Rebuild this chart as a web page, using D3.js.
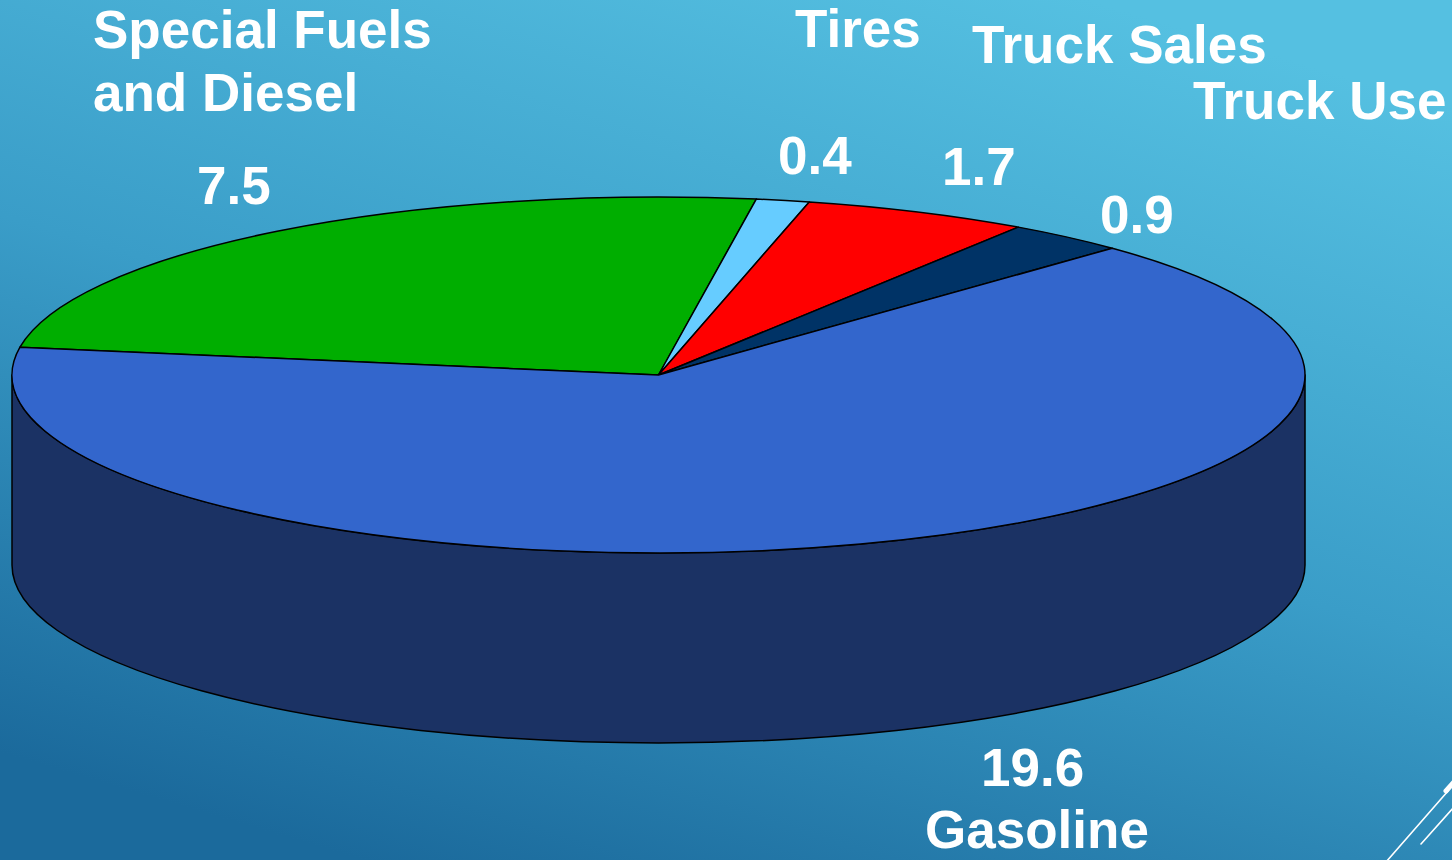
<!DOCTYPE html>
<html>
<head>
<meta charset="utf-8">
<script src="https://cdn.jsdelivr.net/npm/d3@7"></script>
<style>
  html, body { margin: 0; padding: 0; overflow: hidden; }
  svg { display: block; }
</style>
</head>
<body>
<svg id="chart" width="1452" height="860"></svg>
<script>
// ---- data ----
const categories = ["Special Fuels and Diesel", "Tires", "Truck Sales", "Truck Use", "Gasoline"];
const values = [7.5, 0.4, 1.7, 0.9, 19.6];
const valueLabels = ["7.5", "0.4", "1.7", "0.9", "19.6"];
const nameLines = [["Special Fuels", "and Diesel"], ["Tires"], ["Truck Sales"], ["Truck Use"], ["Gasoline"]];

// ---- style / layout ----
const W = 1452, H = 860;
const colors = ["#00AE00", "#66CCFF", "#FF0000", "#003366", "#3366CC"];
const sideColor = "#1B3264";
const cx = 658.5, cy = 375, rx = 646.5, ry = 178, depth = 190;
const startDeg = -81;
const fontSize = 53;
// label anchor positions (left x, baseline y)
const valuePos = [[197, 204], [778, 174], [942, 185], [1100, 233], [981, 786]];
const namePos = [[93, 48], [795, 47], [972, 63], [1193, 119], [925, 848]];
const nameLineGap = 63;

const svg = d3.select("#chart");
const defs = svg.append("defs");
const grad = defs.append("linearGradient").attr("id", "bg")
  .attr("x1", "0.75").attr("y1", "0").attr("x2", "0.25").attr("y2", "1");
grad.append("stop").attr("offset", "0").attr("stop-color", "#55C0E1");
grad.append("stop").attr("offset", "0.5").attr("stop-color", "#3A9DC8");
grad.append("stop").attr("offset", "1").attr("stop-color", "#1B6A9C");
svg.append("rect").attr("width", W).attr("height", H).attr("fill", "url(#bg)");

// decoration lines bottom-right
const deco = svg.append("g").attr("stroke", "#fff").attr("fill", "none").attr("stroke-linecap", "round");
deco.append("line").attr("x1", 1386).attr("y1", 862).attr("x2", 1448).attr("y2", 791).attr("stroke-width", 1.6);
deco.append("line").attr("x1", 1421).attr("y1", 844).attr("x2", 1454).attr("y2", 807).attr("stroke-width", 1.6);
deco.append("line").attr("x1", 1446).attr("y1", 791).attr("x2", 1454).attr("y2", 782).attr("stroke-width", 5);

const pie = d3.pie().sort(null)
  .startAngle(startDeg * Math.PI / 180)
  .endAngle(startDeg * Math.PI / 180 + 2 * Math.PI);
const arcs = pie(values);

const pt = (a, dy = 0) => [cx + rx * Math.sin(a), cy - ry * Math.cos(a) + dy];

// side walls: front half (pi/2 .. 3pi/2 in d3 angle)
const sideG = svg.append("g");
arcs.forEach((d, i) => {
  for (let k = -2; k <= 2; k++) {
    const lo = Math.PI / 2 + 2 * Math.PI * k, hi = 3 * Math.PI / 2 + 2 * Math.PI * k;
    const a0 = Math.max(d.startAngle, lo), a1 = Math.min(d.endAngle, hi);
    if (a1 > a0) {
      const p0 = pt(a0), p1 = pt(a1), q1 = pt(a1, depth), q0 = pt(a0, depth);
      const large = (a1 - a0) > Math.PI ? 1 : 0;
      const path = `M${p0[0]},${p0[1]} A${rx},${ry} 0 ${large} 1 ${p1[0]},${p1[1]} L${q1[0]},${q1[1]} A${rx},${ry} 0 ${large} 0 ${q0[0]},${q0[1]} Z`;
      sideG.append("path").attr("d", path).attr("fill", sideColor)
        .attr("stroke", "#000").attr("stroke-width", 1.5).attr("stroke-linejoin", "round");
    }
  }
});

// top faces
const topG = svg.append("g");
arcs.forEach((d, i) => {
  const p0 = pt(d.startAngle), p1 = pt(d.endAngle);
  const large = (d.endAngle - d.startAngle) > Math.PI ? 1 : 0;
  const path = `M${cx},${cy} L${p0[0]},${p0[1]} A${rx},${ry} 0 ${large} 1 ${p1[0]},${p1[1]} Z`;
  topG.append("path").attr("d", path).attr("fill", colors[i])
    .attr("stroke", "#000").attr("stroke-width", 1.5).attr("stroke-linejoin", "round");
});

// labels
const lab = svg.append("g").attr("fill", "#fff")
  .attr("font-family", "'Liberation Sans', Arial, sans-serif")
  .attr("font-weight", "bold").attr("font-size", fontSize);
categories.forEach((c, i) => {
  lab.append("text").attr("x", valuePos[i][0]).attr("y", valuePos[i][1]).text(valueLabels[i]);
  nameLines[i].forEach((ln, j) => {
    lab.append("text").attr("x", namePos[i][0]).attr("y", namePos[i][1] + j * nameLineGap).text(ln);
  });
});
</script>
</body>
</html>
